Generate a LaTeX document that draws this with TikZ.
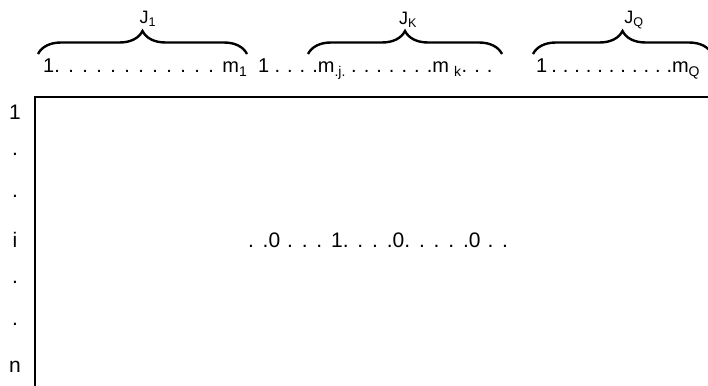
\documentclass[tikz,border=0pt]{standalone}
\usepackage{fontspec}
\setmainfont{Liberation Sans}
\usetikzlibrary{decorations.pathreplacing}
\begin{document}
\begin{tikzpicture}[x=1pt,y=-1pt,
  lbl/.style={font=\fontsize{21}{24}\selectfont, inner sep=0pt, anchor=center},
  jl/.style={font=\fontsize{18}{21}\selectfont, inner sep=0pt, anchor=center},
  col/.style={font=\fontsize{20}{24}\selectfont, inner sep=0pt, anchor=base west},
  bracestyle/.style={decorate, decoration={brace, amplitude=23pt, raise=0pt}, line width=2.4pt},
  frame/.style={line width=2pt}]
\useasboundingbox (0,0) rectangle (708,385);
% braces
\coordinate (b1l) at (38,54);
\coordinate (b1r) at (247,54);
\coordinate (bkl) at (308,54);
\coordinate (bkr) at (502,54);
\coordinate (bql) at (533,54);
\coordinate (bqr) at (712,54);
\draw[bracestyle] (b1l) -- (b1r);
\draw[bracestyle] (bkl) -- (bkr);
\draw[bracestyle] (bql) -- (bqr);
\node[jl] (j1) at (148,19) {J\textsubscript{1}};
\node[jl] (jk) at (408,20) {J\textsubscript{K}};
\node[jl] (jq) at (634,20) {J\textsubscript{Q}};
% column labels
\node[col] (c1) at (43,73) {\spaceskip=6.6pt 1. . . . . . . . . . . . m\textsubscript{1}};
\node[col] (ck) at (258,73) {\spaceskip=5.2pt 1 . . . .m\textsubscript{.j.} . . . . . . .m \textsubscript{k}. . .};
\node[col] (cq) at (536,73) {\spaceskip=4.1pt 1 . . . . . . . . . . .m\textsubscript{Q}};
% frame
\coordinate (tr) at (710,97);
\coordinate (tl) at (35,97);
\coordinate (bl) at (35,387);
\draw[frame] (tr) -- (tl) -- (bl);
% row labels
\node[lbl] (r1) at (15,112) {1};
\node[lbl] (r2) at (15,154) {.};
\node[lbl] (r3) at (15,196) {.};
\node[lbl] (ri) at (15,240) {i};
\node[lbl] (r4) at (15,282) {.};
\node[lbl] (r5) at (15,324) {.};
\node[lbl] (rn) at (15,367) {n};
% middle row
\node[lbl] (mid) at (378,240) {\spaceskip=6.9pt . .0 . . . 1. . . .0. . . . .0 . .};
\end{tikzpicture}
\end{document}
